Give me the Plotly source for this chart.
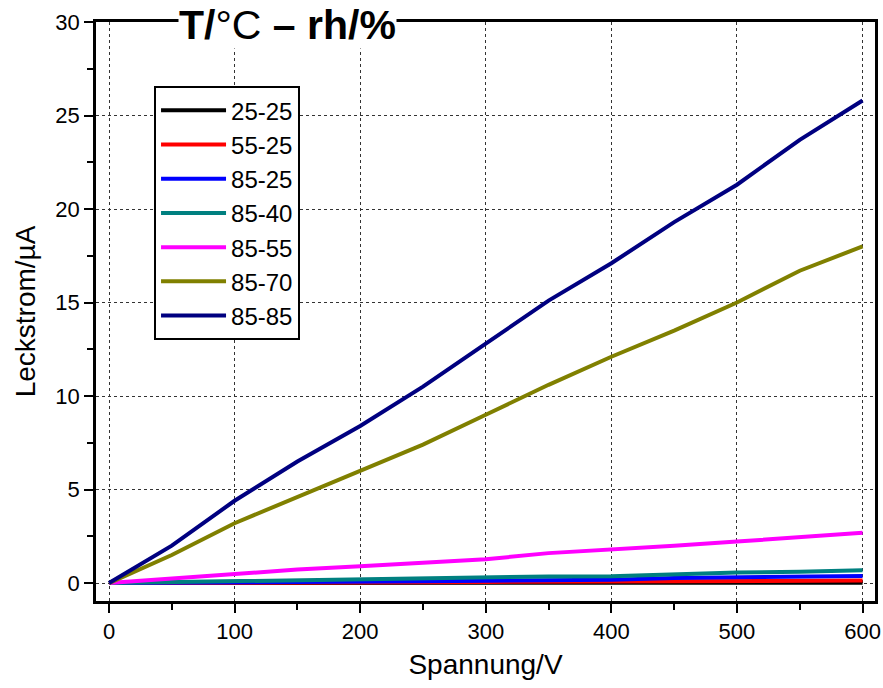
import plotly.graph_objects as go

# Bias voltage sweep (V)
spannung = [0, 50, 100, 150, 200, 250, 300, 350, 400, 450, 500, 550, 600]

# Leakage current (µA) per climate condition "T/°C - rh/%"
i_25_25 = [0, 0, 0, 0, 0.01, 0.01, 0.01, 0.01, 0.01, 0.01, 0.02, 0.02, 0.02]
i_55_25 = [0, 0, 0.01, 0.01, 0.02, 0.04, 0.06, 0.08, 0.09, 0.12, 0.12, 0.12, 0.13]
i_85_25 = [0, 0.01, 0.03, 0.05, 0.06, 0.1, 0.12, 0.15, 0.18, 0.27, 0.3, 0.32, 0.38]
i_85_40 = [0, 0.05, 0.12, 0.18, 0.2, 0.27, 0.3, 0.35, 0.37, 0.48, 0.57, 0.6, 0.68]
i_85_55 = [0, 0.25, 0.5, 0.72, 0.9, 1.08, 1.27, 1.6, 1.78, 2.0, 2.22, 2.45, 2.69]
i_85_70 = [0, 1.5, 3.2, 4.6, 6.0, 7.4, 9.0, 10.6, 12.1, 13.5, 15.0, 16.7, 18.0]
i_85_85 = [0, 2.0, 4.4, 6.5, 8.4, 10.5, 12.8, 15.1, 17.1, 19.3, 21.3, 23.7, 25.8]

labels = ["25-25", "55-25", "85-25", "85-40", "85-55", "85-70", "85-85"]
series = [i_25_25, i_55_25, i_85_25, i_85_40, i_85_55, i_85_70, i_85_85]
colors = ["#000000", "#FF0000", "#0000FF", "#008080", "#FF00FF", "#808000", "#000080"]

FONT = "Liberation Sans, Arial, sans-serif"

fig = go.Figure()
for name, ys, c in zip(labels, series, colors):
    fig.add_trace(go.Scatter(x=spannung, y=ys, mode="lines", name=name,
                             line=dict(color=c, width=4)))

axis_common = dict(
    showline=True, linecolor="black", linewidth=2.5, mirror=True,
    ticks="outside", ticklen=9, tickwidth=2, tickcolor="black",
    showgrid=True, gridcolor="#333333", griddash="dot", gridwidth=1,
    zeroline=False, automargin=False,
    tickfont=dict(family=FONT, size=22, color="black"),
)

fig.update_xaxes(
    range=[-10.35, 609.9], dtick=100, tick0=0,
    minor=dict(dtick=50, ticks="outside", ticklen=6, tickwidth=2,
               tickcolor="black", showgrid=False),
    title=dict(text="Spannung/V", font=dict(family=FONT, size=28, color="black"),
               standoff=12),
    **axis_common,
)
fig.update_yaxes(
    range=[-0.96, 30], dtick=5, tick0=0,
    minor=dict(dtick=2.5, ticks="outside", ticklen=6, tickwidth=2,
               tickcolor="black", showgrid=False),
    title=dict(text="Leckstrom/µA", font=dict(family=FONT, size=28, color="black"),
               standoff=12),
    **axis_common,
)

# Heading sitting on the top frame, blanking the frame line behind it
fig.add_annotation(
    x=0.246, y=1.0, xref="paper", yref="paper", xanchor="center", yanchor="middle",
    yshift=-3,
    text="<b>T/</b>°C <b>– rh/%</b>", showarrow=False,
    font=dict(family=FONT, size=41, color="black"),
    bgcolor="white", borderpad=0,
)

fig.update_layout(
    width=883, height=688,
    margin=dict(l=96, r=8, t=22, b=87),
    paper_bgcolor="white", plot_bgcolor="white",
    font=dict(family=FONT, color="black"),
    legend=dict(
        x=0.0745, y=0.889, xanchor="left", yanchor="top",
        bgcolor="white", bordercolor="black", borderwidth=2,
        font=dict(family=FONT, size=24, color="black"),
        itemwidth=65, tracegroupgap=0,
    ),
)

fig.write_html("out.html")
